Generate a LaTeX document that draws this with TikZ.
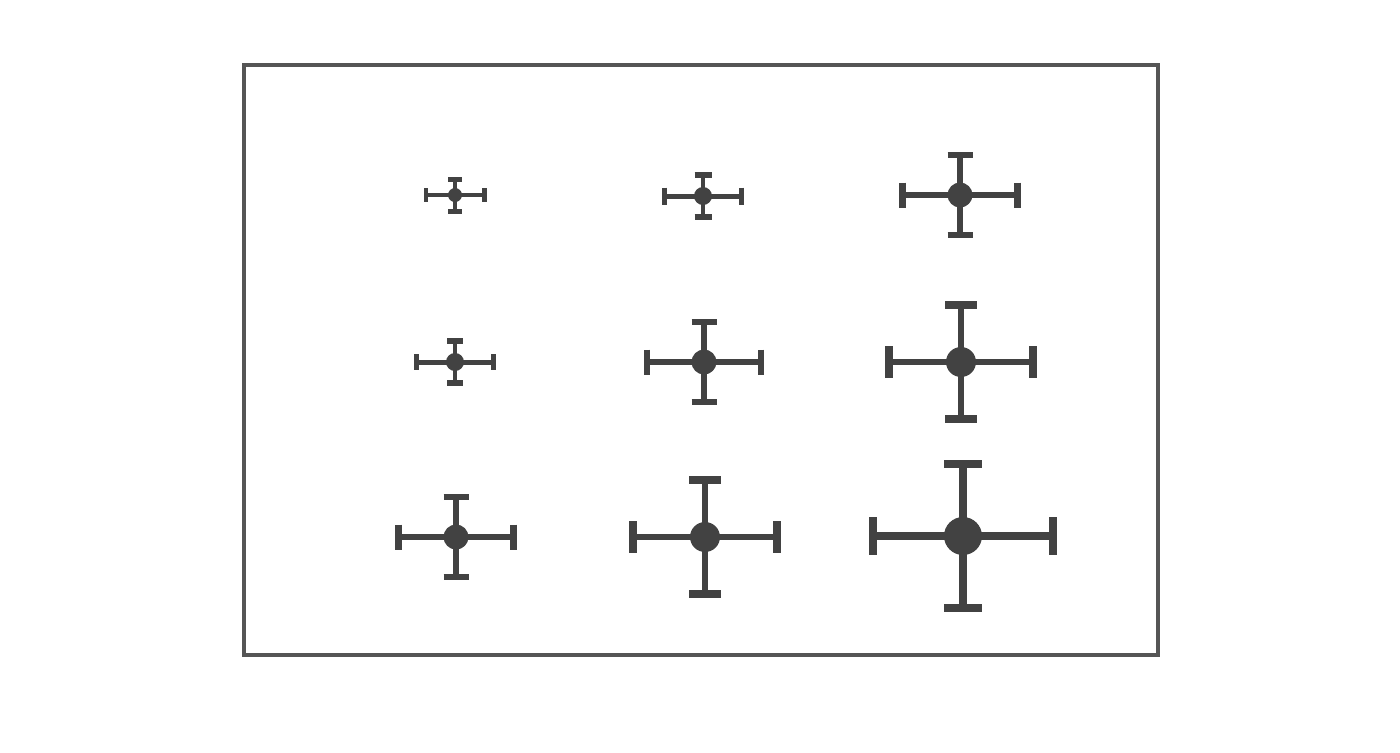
\documentclass[tikz,border=0pt]{standalone}
\definecolor{ink}{RGB}{66,66,66}
\tikzset{
  dot/.style={circle, fill=ink, draw=none, inner sep=0pt},
  bar/.style={draw=ink, line cap=butt},
  frame/.style={draw=ink!90, line width=1.8pt}
}
% name, x, y, half width, half height, cap half length, dot radius, line width (px)
\newcommand\ebcross[8]{%
  \draw[bar, line width=#8*0.63pt] (#2-#4,#3) -- (#2+#4,#3);
  \draw[bar, line width=#8*0.63pt] (#2,#3-#5) -- (#2,#3+#5);
  \draw[bar, line width=#8*0.71pt] (#2-#4,#3-#6) -- (#2-#4,#3+#6);
  \draw[bar, line width=#8*0.71pt] (#2+#4,#3-#6) -- (#2+#4,#3+#6);
  \draw[bar, line width=#8*0.71pt] (#2-#6,#3-#5) -- (#2+#6,#3-#5);
  \draw[bar, line width=#8*0.71pt] (#2-#6,#3+#5) -- (#2+#6,#3+#5);
  \node[dot, minimum size=#7*0.04cm] (#1) at (#2,#3) {};
}
\begin{document}
\begin{tikzpicture}[x=0.02cm, y=-0.02cm]
\useasboundingbox (0,0) rectangle (1400,752);
\fill[white] (0,0) rectangle (1400,752);
\draw[frame] (244,65) rectangle (1158,655);
% row 1
\ebcross{c11}{455}{195}{29}{16}{7}{7}{4}
\ebcross{c12}{703}{196}{38.5}{21}{8.5}{9}{4.5}
\ebcross{c13}{960}{195}{57.5}{40}{12.5}{12.5}{5}
% row 2
\ebcross{c21}{455}{362}{38.5}{21}{8}{9}{4.5}
\ebcross{c22}{704}{362}{57}{40}{12.5}{12.5}{5}
\ebcross{c23}{961}{362}{72}{57}{16}{15}{6}
% row 3
\ebcross{c31}{456}{537}{57.5}{40}{12.5}{12.5}{5}
\ebcross{c32}{705}{537}{72}{57}{16}{15}{6}
\ebcross{c33}{963}{536}{90}{72}{19}{19}{7}
\end{tikzpicture}
\end{document}
